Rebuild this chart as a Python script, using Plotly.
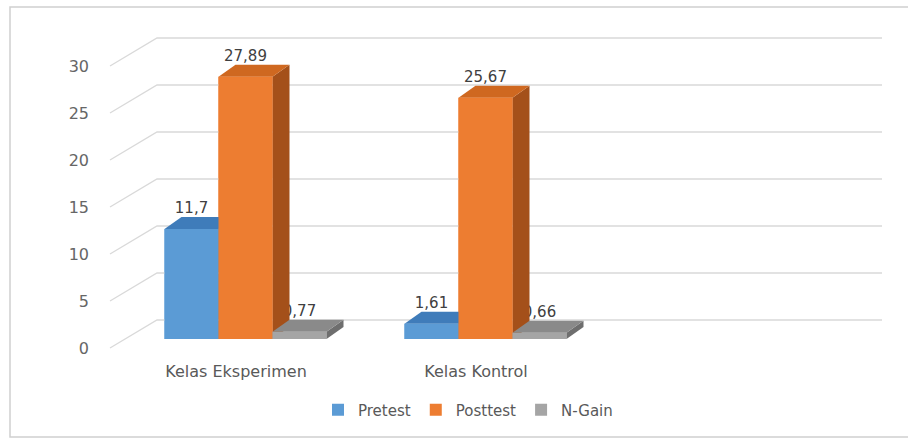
import plotly.graph_objects as go

# ---------------- data ----------------
categories = ["Kelas Eksperimen", "Kelas Kontrol"]
series_names = ["Pretest", "Posttest", "N-Gain"]
pretest = [11.7, 1.61]
posttest = [27.89, 25.67]
ngain = [0.77, 0.66]
y_ticks = [0, 5, 10, 15, 20, 25, 30]

# ---------------- styling / geometry ----------------
front_colors = ["#5B9BD5", "#ED7D31", "#A5A5A5"]
top_colors = ["#3F7CBA", "#CF6820", "#8A8A8A"]
side_colors = ["#3A6D9E", "#A4501A", "#6E6E6E"]
FONT = "DejaVu Sans"
TXT = "#595959"
GRID = "#D9D9D9"

W, H = 908, 439
ML, MR, MT, MB = 100, 8, 20, 79
plot_w = W - ML - MR
plot_h = H - MT - MB
PX_CAT = 240.0          # pixels per category
PX_UNIT = 9.4           # pixels per value unit
CAT0_PX = 230 - ML      # category 0 centre (front plane) from plot left
BASE_PX = 339 - MT      # bar baseline from plot top

x_range = [-CAT0_PX / PX_CAT, (plot_w - CAT0_PX) / PX_CAT]
y_range = [-(plot_h - BASE_PX) / PX_UNIT, BASE_PX / PX_UNIT]

def ux(px):
    return px / PX_CAT

def uy(px):
    return px / PX_UNIT

# bar geometry
bar_w = ux(54)
bar_shift = ux(15.5)
offsets = [bar_shift - ux(81), bar_shift - ux(27), bar_shift + ux(27)]
ddx, ddy = ux(17), uy(12)
# floor / walls
front_dx, front_dy = ux(-15.5), uy(-9)
back_dx, back_dy = ux(31.5), uy(19)
floor_left, floor_right = -0.5, 2.5

values = [pretest, posttest, ngain]
xs = list(range(len(categories)))

fig = go.Figure()

# front bars via the library's bar trace (also give the legend)
for s, name in enumerate(series_names):
    fig.add_trace(go.Bar(
        x=xs, y=values[s], name=name, width=bar_w, offset=offsets[s],
        marker=dict(color=front_colors[s], line=dict(width=0)),
        hoverinfo="skip",
    ))

# back wall gridlines and left diagonals
for v in y_ticks:
    fig.add_trace(go.Scatter(
        x=[floor_left + bar_shift + front_dx, floor_left + bar_shift + back_dx,
           floor_right + bar_shift + back_dx + ux(5)],
        y=[v + front_dy, v + back_dy, v + back_dy],
        mode="lines", line=dict(color=GRID, width=1.3),
        showlegend=False, hoverinfo="skip",
    ))

# data labels first (so bar faces can partly hide them, like the original)
for s in range(3):
    lx = [x + offsets[s] + bar_w / 2 for x in xs]
    ly = [v + ddy for v in values[s]]
    fig.add_trace(go.Scatter(
        x=lx, y=ly, mode="text",
        text=[f"{v:g}".replace(".", ",") for v in values[s]],
        textposition="top center",
        textfont=dict(family=FONT, size=15, color="#404040"),
        showlegend=False, hoverinfo="skip",
    ))

# 3D faces drawn left to right for correct overlap
for i in xs:
    for s in range(3):
        h = values[s][i]
        xl = i + offsets[s]
        xr = xl + bar_w
        side = ([xr, xr, xr + ddx, xr + ddx, xr], [0, h, h + ddy, ddy, 0])
        top = ([xl, xr, xr + ddx, xl + ddx, xl], [h, h, h + ddy, h + ddy, h])
        front = ([xl, xr, xr, xl, xl], [0, 0, h, h, 0])
        for (px, py), col in ((side, side_colors[s]), (top, top_colors[s]), (front, front_colors[s])):
            fig.add_trace(go.Scatter(
                x=px, y=py, mode="lines", fill="toself", fillcolor=col,
                line=dict(width=0, color=col),
                showlegend=False, hoverinfo="skip",
            ))

fig.update_layout(
    width=W, height=H,
    margin=dict(l=ML, r=MR, t=MT, b=MB),
    paper_bgcolor="white", plot_bgcolor="white",
    barmode="overlay",
    showlegend=True,
    legend=dict(
        orientation="h", x=(468 - ML) / plot_w, xanchor="center",
        y=(MT + plot_h - 410) / plot_h, yanchor="middle",
        font=dict(family=FONT, size=15, color=TXT),
        itemwidth=30,
        bgcolor="rgba(0,0,0,0)",
    ),
    xaxis=dict(
        range=x_range, showgrid=False, zeroline=False, showline=False,
        tickmode="array", tickvals=xs, ticktext=categories, ticks="",
        tickfont=dict(family=FONT, size=16, color=TXT),
        ticklabelshift=6,
        fixedrange=True,
    ),
    yaxis=dict(
        range=y_range, showgrid=False, zeroline=False, showline=False,
        tickmode="array", tickvals=y_ticks, ticks="",
        tickfont=dict(family=FONT, size=16, color="#666666"),
        ticklabelshift=9, ticklabelstandoff=10,
        fixedrange=True,
    ),
    shapes=[dict(
        type="rect", xref="paper", yref="paper",
        x0=(10 - ML) / plot_w, x1=(915 - ML) / plot_w,
        y0=(MT + plot_h - 437) / plot_h, y1=(MT + plot_h - 7) / plot_h,
        line=dict(color="#D0D0D0", width=1.5), fillcolor="rgba(0,0,0,0)", layer="below",
    )],
)

fig.write_html("out.html")
